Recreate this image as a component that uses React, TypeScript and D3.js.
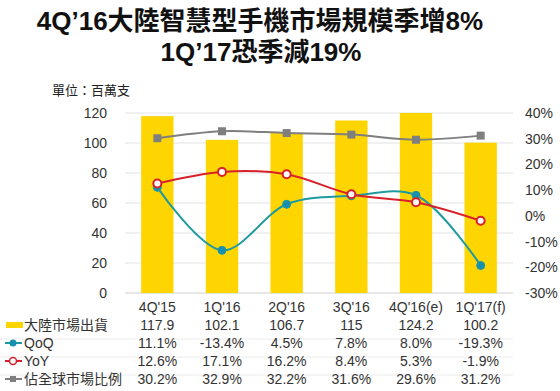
import React from "react";
import * as d3 from "d3";

// chart data
const quarters = ["4Q'15", "1Q'16", "2Q'16", "3Q'16", "4Q'16(e)", "1Q'17(f)"];
const shipments = [117.9, 102.1, 106.7, 115, 124.2, 100.2];
const qoq = [11.1, -13.4, 4.5, 7.8, 8.0, -19.3];
const yoy = [12.6, 17.1, 16.2, 8.4, 5.3, -1.9];
const globalShare = [30.2, 32.9, 32.2, 31.6, 29.6, 31.2];
const leftTicks = [0, 20, 40, 60, 80, 100, 120];
const rightTicks = [-30, -20, -10, 0, 10, 20, 30, 40];

const shipLabels = ["117.9", "102.1", "106.7", "115", "124.2", "100.2"];
const qoqLabels = ["11.1%", "-13.4%", "4.5%", "7.8%", "8.0%", "-19.3%"];
const yoyLabels = ["12.6%", "17.1%", "16.2%", "8.4%", "5.3%", "-1.9%"];
const shareLabels = ["30.2%", "32.9%", "32.2%", "31.6%", "29.6%", "31.2%"];

const W = 560;
const H = 391;
const plot = { left: 125, right: 513, top: 113, bottom: 293 };

const YELLOW = "#FFD500";
const TEAL = "#1E9AA0";
const TEAL_DOT = "#1790B0";
const RED = "#D9202A";
const GRAY = "#7F7F7F";
const FONT = "Arial, 'Liberation Sans', 'Noto Sans CJK TC', sans-serif";

export default function App() {
  const x = d3.scaleBand<string>().domain(quarters).range([plot.left, plot.right]).paddingInner(0.5).paddingOuter(0.25);
  const cx = (i: number) => (x(quarters[i]) as number) + x.bandwidth() / 2;
  const yL = d3.scaleLinear().domain([0, 120]).range([plot.bottom, plot.top]);
  const yR = d3.scaleLinear().domain([-30, 40]).range([plot.bottom, plot.top]);

  const line = d3
    .line<number>()
    .x((d, i) => cx(i))
    .y((d) => yR(d))
    .curve(d3.curveCatmullRom.alpha(0.5));

  const rows = [
    { y: 330, label: "大陸市場出貨", values: shipLabels, kind: "bar" },
    { y: 348, label: "QoQ", values: qoqLabels, kind: "qoq" },
    { y: 366, label: "YoY", values: yoyLabels, kind: "yoy" },
    { y: 384, label: "佔全球市場比例", values: shareLabels, kind: "share" },
  ];

  return (
    <svg width={W} height={H} style={{ position: "absolute", left: 0, top: 0, background: "#fff" }} fontFamily={FONT}>
      <defs>
        <clipPath id="plotClip">
          <rect x={plot.left} y={plot.top} width={plot.right - plot.left} height={plot.bottom - plot.top} />
        </clipPath>
      </defs>

      {/* title */}
      <text x={260} y={30} textAnchor="middle" fontSize={26} fontWeight="bold" fill="#111">
        4Q’16大陸智慧型手機市場規模季增8%
      </text>
      <text x={261} y={61} textAnchor="middle" fontSize={26} fontWeight="bold" fill="#111">
        1Q’17恐季減19%
      </text>
      <text x={52} y={95} fontSize={13} fill="#222">單位：百萬支</text>

      {/* grid */}
      {leftTicks.map((t) => (
        <g key={t}>
          <line x1={plot.left} x2={plot.right} y1={yL(t)} y2={yL(t)} stroke={t === 0 ? "#cfcfcf" : "#e2e2e2"} />
          <text x={107} y={yL(t) + 5} textAnchor="end" fontSize={14} fill="#333">{t}</text>
        </g>
      ))}
      {rightTicks.map((t) => (
        <text key={t} x={525} y={yR(t) + 5} fontSize={14} fill="#333">{t}%</text>
      ))}

      {/* bars */}
      <g clipPath="url(#plotClip)">
        {shipments.map((v, i) => (
          <rect key={i} x={x(quarters[i])} width={x.bandwidth()} y={yL(v)} height={yL(0) - yL(v)} fill={YELLOW} />
        ))}
      </g>

      {/* lines */}
      <path d={line(globalShare) || ""} fill="none" stroke={GRAY} strokeWidth={2} />
      {globalShare.map((v, i) => (
        <rect key={i} x={cx(i) - 4} y={yR(v) - 4} width={8} height={8} fill={GRAY} />
      ))}
      <path d={line(qoq) || ""} fill="none" stroke={TEAL} strokeWidth={2} />
      {qoq.map((v, i) => (
        <circle key={i} cx={cx(i)} cy={yR(v)} r={4} fill={TEAL_DOT} stroke={TEAL} strokeWidth={1} />
      ))}
      <path d={line(yoy) || ""} fill="none" stroke={RED} strokeWidth={2} />
      {yoy.map((v, i) => (
        <circle key={i} cx={cx(i)} cy={yR(v)} r={4} fill="#fff" stroke={RED} strokeWidth={2} />
      ))}

      {/* data table */}
      {quarters.map((q, i) => (
        <text key={q} x={cx(i)} y={312} textAnchor="middle" fontSize={14} fill="#333">{q}</text>
      ))}
      {[339, 357, 375].map((ly) => (
        <line key={ly} x1={0} x2={plot.right} y1={ly} y2={ly} stroke="#ececec" />
      ))}
      {rows.map((r) => (
        <g key={r.label}>
          {r.kind === "bar" && <rect x={6} y={r.y - 8} width={17} height={6} fill={YELLOW} />}
          {r.kind === "qoq" && (
            <g>
              <line x1={5} x2={22} y1={r.y - 5} y2={r.y - 5} stroke={TEAL} strokeWidth={2} />
              <circle cx={13} cy={r.y - 5} r={3.5} fill={TEAL_DOT} />
            </g>
          )}
          {r.kind === "yoy" && (
            <g>
              <line x1={5} x2={22} y1={r.y - 5} y2={r.y - 5} stroke={RED} strokeWidth={2} />
              <circle cx={13} cy={r.y - 5} r={3.5} fill="#fff" stroke={RED} strokeWidth={1.5} />
            </g>
          )}
          {r.kind === "share" && (
            <g>
              <line x1={5} x2={22} y1={r.y - 5} y2={r.y - 5} stroke={GRAY} strokeWidth={2} />
              <rect x={10} y={r.y - 8} width={6} height={6} fill={GRAY} />
            </g>
          )}
          <text x={24} y={r.y} fontSize={14} fill="#333">{r.label}</text>
          {r.values.map((v, i) => (
            <text key={i} x={cx(i)} y={r.y} textAnchor="middle" fontSize={14} fill="#333">{v}</text>
          ))}
        </g>
      ))}
    </svg>
  );
}
